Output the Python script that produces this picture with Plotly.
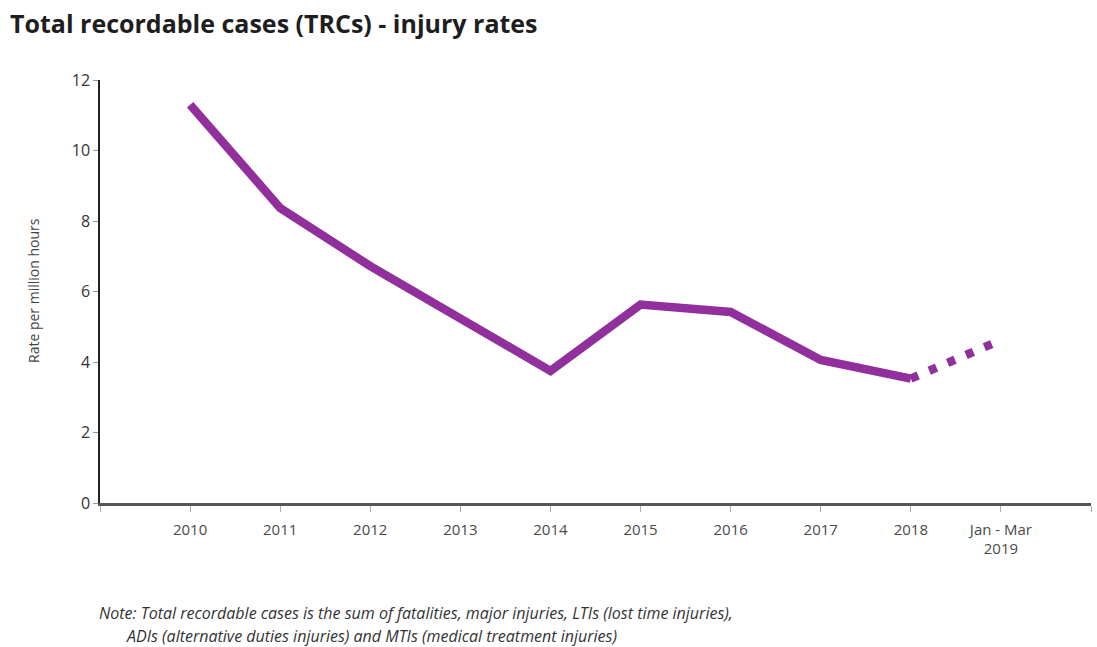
import plotly.graph_objects as go

# Category labels along the x axis
periods = ["2010", "2011", "2012", "2013", "2014", "2015", "2016", "2017", "2018", "Jan - Mar<br>2019"]
# TRC injury rate per million hours worked
rates = [11.3, 8.37, 6.72, 5.2, 3.75, 5.63, 5.42, 4.06, 3.53, 4.62]
y_ticks = [0, 2, 4, 6, 8, 10, 12]

PURPLE = "#912f9c"
FONT = "'Open Sans', Lato, sans-serif"
W, H = 1097, 647
L, R, T, B = 100, 6, 80, 144

idx = list(range(len(periods)))
full_years = len(periods) - 1  # last period is a partial (quarter) figure

fig = go.Figure()
fig.add_trace(go.Scatter(
    x=idx[:full_years], y=rates[:full_years], mode="lines",
    line=dict(color=PURPLE, width=8.5, shape="linear"),
    hoverinfo="skip", showlegend=False,
))
fig.add_trace(go.Scatter(
    x=idx[full_years - 1:], y=rates[full_years - 1:], mode="lines",
    line=dict(color=PURPLE, width=8.5, dash="8px,12px"),
    hoverinfo="skip", showlegend=False,
))

tick_positions = [-1] + idx + [len(periods)]
tick_labels = [""] + periods + [""]

fig.update_layout(
    width=W, height=H,
    margin=dict(l=L, r=R, t=T, b=B),
    paper_bgcolor="white", plot_bgcolor="white",
    font=dict(family=FONT, color="#333333"),
    title=dict(
        text="<b>Total recordable cases (TRCs) - injury rates</b>",
        x=10 / W, xanchor="left", xref="container",
        y=1 - 24 / H, yanchor="middle",
        font=dict(size=25, color="#1e1e1e", family=FONT),
    ),
    xaxis=dict(
        range=[-1, len(periods)],
        tickmode="array", tickvals=tick_positions, ticktext=tick_labels,
        showgrid=False, zeroline=False,
        showline=True, linecolor="#555555", linewidth=2.5,
        ticks="outside", ticklen=6, tickcolor="#aaaaaa", tickwidth=1,
        ticklabelstandoff=5,
        tickfont=dict(size=15, color="#4a4a4a"),
        fixedrange=True,
    ),
    yaxis=dict(
        range=[0, 12],
        tickmode="array", tickvals=y_ticks,
        showgrid=False, zeroline=False,
        showline=True, linecolor="#222222", linewidth=1.5,
        ticks="outside", ticklen=5, tickcolor="#999999", tickwidth=1,
        tickfont=dict(size=16, color="#333333"),
        fixedrange=True,
    ),
)

plot_w = W - L - R
plot_h = H - T - B

# Axis title
fig.add_annotation(
    text="Rate per million hours", textangle=-90,
    xref="paper", yref="paper",
    x=(33 - L) / plot_w, y=(H - B - 291) / plot_h,
    xanchor="center", yanchor="middle", showarrow=False,
    font=dict(size=14, color="#444444"),
)

# Footnote
fig.add_annotation(
    text="<i>Note: Total recordable cases is the sum of fatalities, major injuries, LTIs (lost time injuries),</i>",
    xref="paper", yref="paper",
    x=(97 - L) / plot_w, y=(H - B - 613) / plot_h,
    xanchor="left", yanchor="middle", showarrow=False,
    font=dict(size=16, color="#333333"),
)
fig.add_annotation(
    text="<i>ADIs (alternative duties injuries) and MTIs (medical treatment injuries)</i>",
    xref="paper", yref="paper",
    x=(124 - L) / plot_w, y=(H - B - 636) / plot_h,
    xanchor="left", yanchor="middle", showarrow=False,
    font=dict(size=16, color="#333333"),
)

fig.write_html("out.html")
